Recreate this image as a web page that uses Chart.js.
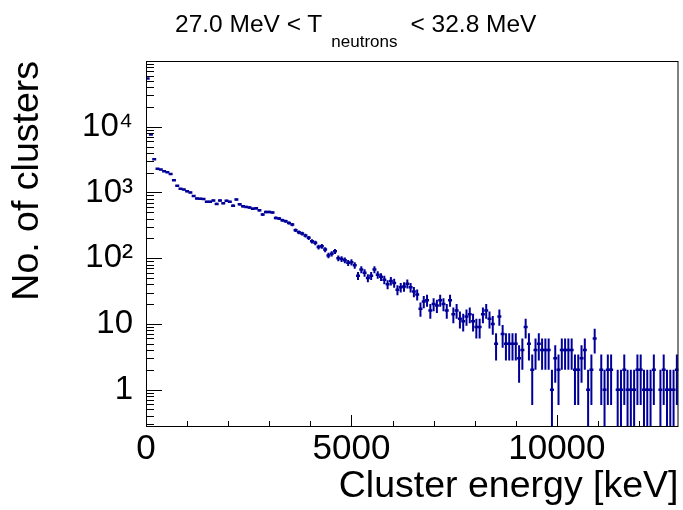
<!DOCTYPE html>
<html>
<head>
<meta charset="utf-8">
<script src="https://cdn.jsdelivr.net/npm/chart.js@4.4.1/dist/chart.umd.min.js"></script>
<style>
  html, body { margin: 0; padding: 0; background: #fff; }
  #wrap { position: relative; width: 683px; height: 510px; }
  #title {
    position: absolute; left: 175px; top: 12px;
    font-family: "Liberation Sans", Arial, Helvetica, sans-serif;
    font-size: 24.5px; line-height: 24px; color: #000; white-space: nowrap;
  }
  #title .sub { font-size: 17px; vertical-align: -15px; margin-left: 9px; margin-right: 13px; }
</style>
</head>
<body>
<div id="wrap">
  <canvas id="chart" width="683" height="510"></canvas>
  <div id="title">27.0 MeV &lt; T<span class="sub">neutrons</span>&lt; 32.8 MeV</div>
</div>
<script>
// histogram: 162 bins of 80 keV starting at 0 keV
const binStart = 0;
const binWidth = 80;
const counts = [
  54000, 7600, 3200, 2300, 2230, 2100, 2030, 1910, 1540, 1260,
  1135, 1110, 1040, 1000, 880, 807, 800, 795, 720, 720,
  753, 670, 753, 685, 745, 720, 630, 780, 660, 617,
  603, 590, 565, 575, 537, 460, 505, 505, 495, 410,
  400, 378, 365, 344, 325, 266, 247, 237, 221, 204,
  181, 171, 148, 152, 135, 110, 117, 127, 100, 97,
  93, 85, 87, 78, 54, 67, 60, 50, 54, 67,
  56, 52, 47, 40, 45, 42, 33, 36, 37, 41,
  36, 31, 28, 17, 22, 23, 16, 20, 19, 23,
  20, 16, 23, 14, 16, 12, 11, 13, 14, 11,
  9, 9, 14, 16, 12, 10, 5, 13, 7, 5,
  5, 5, 5, 3, 4, 9, 5, 2, 4, 5,
  4, 4, 4, 1, 3, 2, 4, 4, 4, 4,
  2, 2, 3, 4, 1, 2, 6, 0, 2, 1,
  2, 2, 0, 1, 1, 2, 1, 1, 1, 2,
  2, 1, 1, 1, 2, 0, 1, 2, 1, 1,
  1, 2
];
const xTickLabels = [0, 5000, 10000];
const yTickLabels = { 1: '1', 10: '10', 100: '10²', 1000: '10³', 10000: '10⁴' };
const xRange = [0, 12960];
const yRange = [0.27, 100000];

const lineColor = '#000099';
const fontFamily = '"Liberation Sans", Arial, Helvetica, sans-serif';

const binCenter = i => binStart + binWidth * (i + 0.5);
const points = [];
counts.forEach((n, i) => { if (n > 0) points.push({ x: binCenter(i), y: n }); });

// vertical error bars (sqrt N), like ROOT "E" option
const errorBars = {
  id: 'errorBars',
  afterDatasetsDraw(chart) {
    const { ctx, chartArea, scales: { x, y } } = chart;
    ctx.save();
    ctx.beginPath();
    ctx.rect(chartArea.left, chartArea.top, chartArea.right - chartArea.left, chartArea.bottom - chartArea.top);
    ctx.clip();
    ctx.strokeStyle = lineColor;
    ctx.lineWidth = 2;
    points.forEach(p => {
      const err = Math.sqrt(p.y);
      const px = x.getPixelForValue(p.x);
      const lo = p.y - err > 0 ? y.getPixelForValue(p.y - err) : chartArea.bottom;
      const hi = y.getPixelForValue(p.y + err);
      ctx.beginPath();
      ctx.moveTo(px, lo);
      ctx.lineTo(px, hi);
      ctx.stroke();
    });
    ctx.restore();
  }
};

// ROOT style frame with inward ticks
const rootFrame = {
  id: 'rootFrame',
  afterDatasetsDraw(chart) {
    const { ctx, chartArea: a, scales: { x, y } } = chart;
    ctx.save();
    ctx.strokeStyle = '#000';
    ctx.lineWidth = 1;
    ctx.strokeRect(a.left + 0.5, a.top + 0.5, a.right - a.left - 1, a.bottom - a.top - 1);
    ctx.beginPath();
    for (let e = -1; e <= 4; e++) {
      for (let k = 1; k <= 9; k++) {
        const v = k * Math.pow(10, e);
        if (v < yRange[0] || v > yRange[1]) continue;
        const py = Math.round(y.getPixelForValue(v)) + 0.5;
        const len = k === 1 ? 16 : 8;
        ctx.moveTo(a.left, py);
        ctx.lineTo(a.left + len, py);
      }
    }
    for (let v = 0; v <= xRange[1]; v += 1000) {
      const px = Math.round(x.getPixelForValue(v)) + 0.5;
      const len = v % 5000 === 0 ? 12 : 6;
      ctx.moveTo(px, a.bottom);
      ctx.lineTo(px, a.bottom - len);
    }
    ctx.stroke();
    ctx.restore();
  }
};

new Chart(document.getElementById('chart'), {
  type: 'scatter',
  data: {
    datasets: [{
      data: points,
      pointStyle: 'line',
      radius: 2,
      hoverRadius: 2,
      borderWidth: 2.5,
      borderColor: lineColor,
      backgroundColor: lineColor
    }]
  },
  options: {
    responsive: false,
    animation: false,
    devicePixelRatio: 1,
    layout: { padding: { top: 61, right: 1, left: 0, bottom: 0 } },
    plugins: {
      legend: { display: false },
      tooltip: { enabled: false },
      title: { display: false }
    },
    scales: {
      x: {
        type: 'linear',
        position: 'bottom',
        min: xRange[0],
        max: xRange[1],
        afterBuildTicks: s => { s.ticks = xTickLabels.map(v => ({ value: v })); },
        afterFit: s => { s.height = 83; },
        grid: { display: false, drawTicks: false },
        border: { display: false },
        ticks: {
          color: '#000',
          font: { family: fontFamily, size: 35 },
          padding: 1,
          maxRotation: 0,
          autoSkip: false,
          callback: v => String(v)
        },
        title: {
          display: true,
          text: 'Cluster energy [keV]',
          align: 'end',
          color: '#000',
          font: { family: fontFamily, size: 37.5 },
          padding: { top: 0, bottom: 0.6 }
        }
      },
      y: {
        type: 'logarithmic',
        min: yRange[0],
        max: yRange[1],
        afterBuildTicks: s => { s.ticks = Object.keys(yTickLabels).map(v => ({ value: Number(v) })); },
        afterFit: s => { s.width = 146; },
        grid: { display: false, drawTicks: false },
        border: { display: false },
        ticks: {
          color: '#000',
          font: { family: fontFamily, size: 33 },
          padding: 13,
          autoSkip: false,
          callback: v => yTickLabels[v] || ''
        },
        title: {
          display: true,
          text: 'No. of clusters',
          align: 'end',
          color: '#000',
          font: { family: fontFamily, size: 37.5 },
          padding: { top: 5.5, bottom: 0 }
        }
      }
    }
  },
  plugins: [errorBars, rootFrame]
});
</script>
</body>
</html>
